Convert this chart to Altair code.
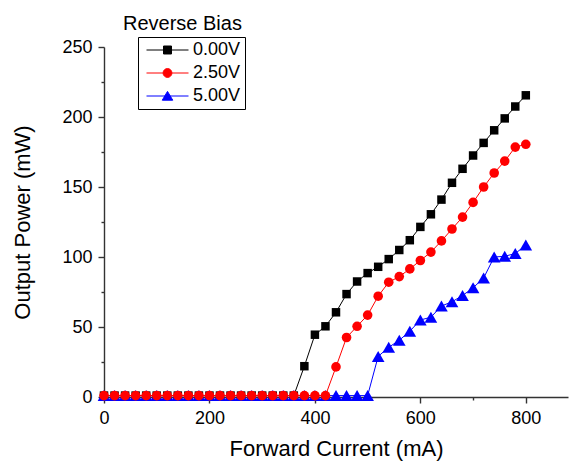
import altair as alt
import pandas as pd

# Forward current sweep (mA)
current_ma = [0, 20, 40, 60, 80, 100, 120, 140, 160, 180, 200, 220, 240, 260, 280,
              300, 320, 340, 360, 380, 400, 420, 440, 460, 480, 500, 520, 540, 560,
              580, 600, 620, 640, 660, 680, 700, 720, 740, 760, 780, 800]

# Output power (mW) for each reverse bias setting
power_0v = [1, 1, 1, 1, 1, 1, 1, 1, 1, 1, 1, 1, 1, 1, 1, 1, 1, 1, 1,
            22, 44.5, 50.5, 60.5, 73.5, 82.5, 88.5, 93, 98.5, 105, 112, 121.5,
            130.5, 141, 153, 163, 172.5, 181.5, 190.5, 199, 207.5, 215.5]
power_25v = [1, 1, 1, 1, 1, 1, 1, 1, 1, 1, 1, 1, 1, 1, 1, 1, 1, 1, 1, 1, 1, 1,
             21.5, 42.5, 50.5, 58.5, 72, 82, 86, 91.5, 97.5, 103.5, 111.5, 120,
             128.5, 139, 150, 160, 168.5, 178.5, 180.5]
power_5v = [1, 1, 1, 1, 1, 1, 1, 1, 1, 1, 1, 1, 1, 1, 1, 1, 1, 1, 1, 1, 1, 1, 1,
            1, 1, 1, 29, 35.5, 40.5, 47, 55, 57, 65, 68, 72.5, 78, 85, 100, 100.5,
            102.5, 108.5]

series_names = ["0.00V", "2.50V", "5.00V"]
series_colors = ["#000000", "#ff0000", "#0000ff"]
series_shapes = ["square", "circle", "triangle-up"]
series_sizes = [72, 92, 160]

# Legend glyphs: a short line with the marker in the middle (unit box -1..1)
legend_paths = [
    "M-1,0H1M-0.19,-0.19H0.19V0.19H-0.19Z",
    "M-1,0H1M-0.21,0A0.21,0.21 0 1,0 0.21,0A0.21,0.21 0 1,0 -0.21,0Z",
    "M-1,0H1M0,-0.22L0.25,0.2L-0.25,0.2Z",
]

frames = []
for name, values in zip(series_names, [power_0v, power_25v, power_5v]):
    frames.append(pd.DataFrame({"current": current_ma, "power": values, "series": name}))
df = pd.concat(frames, ignore_index=True)

FONT = "Liberation Sans"

x_enc = alt.X(
    "current:Q",
    scale=alt.Scale(domain=[0, 880], nice=False),
    axis=alt.Axis(
        title="Forward Current (mA)",
        values=[0, 100, 200, 300, 400, 500, 600, 700, 800],
        labelExpr="datum.value % 200 === 0 ? datum.label : ''",
        tickSize={"condition": {"test": "datum.value % 200 === 0", "value": 6}, "value": 3},
        labelFlush=False,
        titlePadding=11,
    ),
)
y_enc = alt.Y(
    "power:Q",
    scale=alt.Scale(domain=[0, 250], nice=False),
    axis=alt.Axis(
        title="Output Power (mW)",
        values=[0, 25, 50, 75, 100, 125, 150, 175, 200, 225, 250],
        labelExpr="datum.value % 50 === 0 ? datum.label : ''",
        tickSize={"condition": {"test": "datum.value % 50 === 0", "value": 6}, "value": 3},
        labelFlush=False,
        titlePadding=27,
    ),
)

base = alt.Chart(df)

# Draw order: 0 V first, then 5 V, then 2.5 V on top
layers = []
for i in [0, 2, 1]:
    name = series_names[i]
    sub = base.transform_filter(alt.datum.series == name)
    layers.append(
        sub.mark_line(color=series_colors[i], strokeWidth=1).encode(x=x_enc, y=y_enc)
    )
    layers.append(
        sub.mark_point(
            shape=series_shapes[i], filled=True, size=series_sizes[i],
            color=series_colors[i], opacity=1, strokeWidth=0.5,
        ).encode(x=x_enc, y=y_enc)
    )

legend_spec = alt.Legend(
    title=None,
    orient="none",
    legendX=34,
    legendY=-10,
    labelFont=FONT,
    labelFontSize=18,
    labelColor="black",
    strokeColor="black",
    fillColor="white",
    padding=4,
    rowPadding=5,
    clipHeight=18,
    symbolOffset=4,
    labelOffset=4,
    symbolSize=1764,
    symbolStrokeWidth=1,
    symbolOpacity=1,
)

legend_layer = base.transform_filter("datum.current < 0").mark_point(
    filled=True, opacity=1, strokeWidth=1
).encode(
    x=x_enc,
    y=y_enc,
    fill=alt.Fill("series:N", scale=alt.Scale(domain=series_names, range=series_colors), legend=legend_spec),
    stroke=alt.Stroke("series:N", scale=alt.Scale(domain=series_names, range=series_colors), legend=legend_spec),
    shape=alt.Shape("series:N", scale=alt.Scale(domain=series_names, range=legend_paths), legend=legend_spec),
    size=alt.value(1764),
)
layers.append(legend_layer)

chart = alt.layer(*layers).properties(
    width=464,
    height=350,
    autosize="none",
    padding={"left": 104, "top": 47, "right": 1, "bottom": 69},
    title=alt.TitleParams(
        "Reverse Bias",
        anchor="start",
        frame="group",
        dx=19,
        dy=18,
        offset=5,
        baseline="alphabetic",
        font=FONT,
        fontSize=20,
        fontWeight="normal",
        color="black",
    ),
).configure_view(
    stroke=None
).configure_axis(
    grid=False,
    domainColor="#333333",
    domainWidth=1.4,
    tickColor="#333333",
    tickWidth=1.4,
    labelFont=FONT,
    labelFontSize=18,
    labelColor="black",
    labelPadding=6,
    titleFont=FONT,
    titleFontSize=22,
    titleFontWeight="normal",
    titleColor="black",
)

chart.save("out.html", embed_options={"renderer": "svg", "actions": False})
